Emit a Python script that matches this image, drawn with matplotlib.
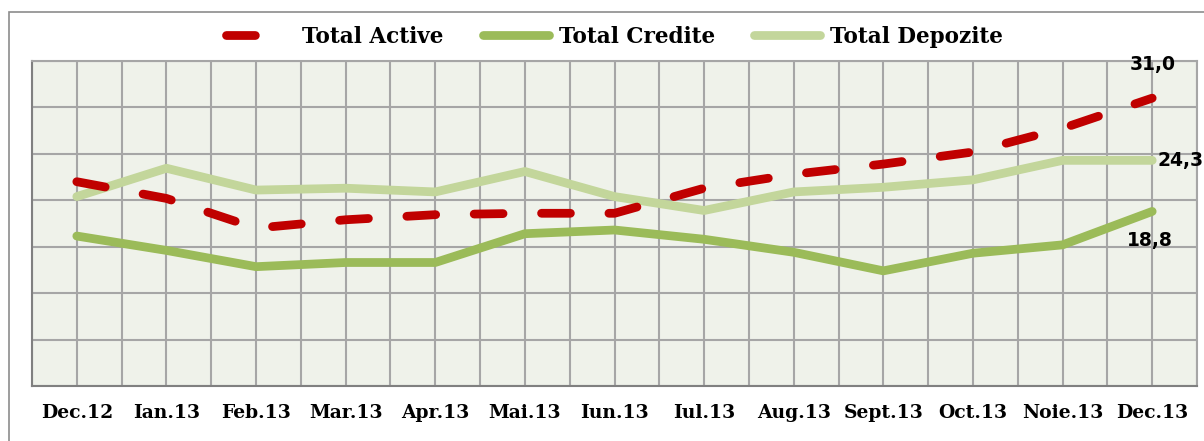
import numpy as np
import matplotlib
matplotlib.use("Agg")
import matplotlib.pyplot as plt
from matplotlib.patches import Rectangle

# data
luni = ["Dec.12", "Ian.13", "Feb.13", "Mar.13", "Apr.13", "Mai.13", "Iun.13",
        "Iul.13", "Aug.13", "Sept.13", "Oct.13", "Noie.13", "Dec.13"]
total_active = [22.0, 20.2, 17.0, 17.9, 18.45, 18.6, 18.6, 21.3, 22.8, 23.9, 25.2, 27.75, 31.0]
total_credite = [16.15, 14.6, 12.85, 13.3, 13.3, 16.4, 16.8, 15.8, 14.4, 12.4, 14.3, 15.2, 18.8]
total_depozite = [20.4, 23.45, 21.1, 21.3, 20.9, 23.1, 20.4, 18.9, 20.9, 21.4, 22.2, 24.3, 24.3]

W, H = 1204, 441
fig = plt.figure(figsize=(W / 100, H / 100), dpi=100)
ax = fig.add_axes([32 / W, 1 - 386 / H, (1197 - 32) / W, (386 - 61) / H])

# outer frame
fig.patches.append(Rectangle((9 / W, -0.1), 1.2, 1.1 - 12 / H, transform=fig.transFigure,
                             fill=False, edgecolor="#8c8c8c", lw=1.2))

x = np.arange(len(luni))
ax.set_facecolor("#EFF2EA")
lw = 6.3

l1, = ax.plot(x, total_active, color="#C00000", lw=lw, linestyle=(0, (3.3, 4.4)),
              dash_capstyle="round", solid_capstyle="round", label="Total Active", zorder=4)
l2, = ax.plot(x, total_credite, color="#9BBB59", lw=lw, solid_capstyle="round",
              label="Total Credite", zorder=3)
l3, = ax.plot(x, total_depozite, color="#C3D69B", lw=lw, solid_capstyle="round",
              label="Total Depozite", zorder=3)

ax.set_xlim(-0.5, len(luni) - 0.5)
ax.set_ylim(0, 35)
ax.set_xticks(x)
ax.set_xticks(np.arange(-0.5, len(luni), 1.0), minor=True)
ax.set_xticklabels(luni, fontfamily="DejaVu Serif", fontweight="bold", fontsize=13.5)
ax.set_yticks(np.arange(0, 36, 5))
ax.set_yticklabels([])
ax.tick_params(axis="both", which="both", length=0)
ax.tick_params(axis="x", pad=13)
ax.grid(True, which="both", color="#A6A6A6", lw=1.5, zorder=0)
ax.set_axisbelow(True)
for s in ["top", "right"]:
    ax.spines[s].set_color("#A6A6A6")
    ax.spines[s].set_linewidth(1.5)
for s in ["left", "bottom"]:
    ax.spines[s].set_color("#808080")
    ax.spines[s].set_linewidth(1.5)

# end labels
lab = dict(fontfamily="DejaVu Sans", fontweight="bold", fontsize=13.5, color="black")
n = len(luni) - 1
ax.annotate("31,0", (n, total_active[-1]), xytext=(0, 24), textcoords="offset points",
            ha="center", va="center", **lab)
ax.annotate("24,3", (n, total_depozite[-1]), xytext=(4, 0), textcoords="offset points",
            ha="left", va="center", **lab)
ax.annotate("18,8", (n, total_credite[-1]), xytext=(-2, -21), textcoords="offset points",
            ha="center", va="center", **lab)

leg = ax.legend(handles=[l1, l2, l3], loc="center", bbox_to_anchor=(0.5, 1 + (61 - 37) / (386 - 61)),
                ncol=3, frameon=False, handlelength=3.07, handletextpad=0.45, columnspacing=1.84,
                prop=dict(family="DejaVu Serif", weight="bold", size=15.5))

fig.savefig("out.png", dpi=100)
